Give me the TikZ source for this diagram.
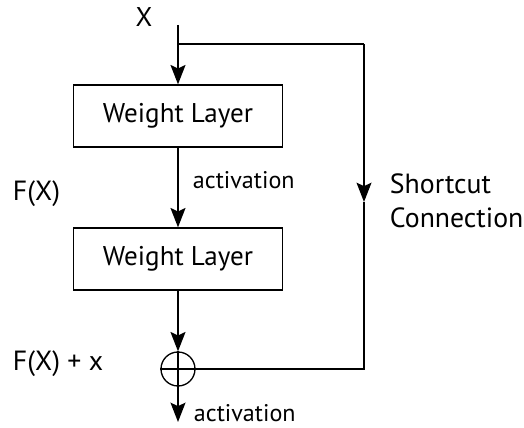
\documentclass[tikz,border=0pt]{standalone}
\usepackage{fontspec}
\setmainfont{PT Sans}
\usetikzlibrary{arrows.meta,positioning}

\begin{document}
\begin{tikzpicture}[->,>={Stealth[length=11pt,width=8.5pt,inset=2pt]},line width=1.1pt,
    layer/.style={rectangle,draw,line width=0.75pt,minimum width=4.18cm,minimum height=1.24cm,font=\fontsize{15.4}{18}\selectfont},
    lbl/.style={anchor=west,inner sep=0pt,font=\fontsize{15.8}{19.4}\selectfont},
    act/.style={anchor=west,inner sep=0pt,font=\fontsize{13.7}{16}\selectfont}]
  \useasboundingbox (0,0) rectangle (10.48,8.54);

  % blocks
  \node[layer] (W1) at (3.56,6.22) {Weight Layer};
  \node[layer] (W2) at (3.56,3.36) {Weight Layer};
  \node[circle,draw,line width=0.75pt,minimum size=0.68cm,inner sep=0pt] (S) at (3.56,1.16) {};
  \draw[-,line width=0.75pt] (S.north) -- (S.south) (S.west) -- (S.east);

  % points on the paths
  \coordinate (in) at (3.56,8.04);
  \coordinate (br) at (3.56,7.66);
  \coordinate (c1) at (7.28,7.66);
  \coordinate (mid) at (7.28,4.50);
  \coordinate (c2) at (7.28,1.16);
  \coordinate (out) at (3.56,0.10);

  \path
    (in) edge (W1)
    (W1) edge (W2)
    (W2) edge (S)
    (S) edge (out);

  % shortcut
  \draw[-,line width=0.85pt] (br) -- (c1);
  \draw[line width=0.85pt] (c1) -- (mid);
  \draw[-,line width=0.85pt] (mid) -- (c2) -- (S);

  % labels
  \node[font=\fontsize{15.4}{18}\selectfont] (X) at (2.88,8.20) {X};
  \node[act] (A1) at (3.84,4.94) {activation};
  \node[lbl] (F) at (0.24,4.66) {F(X)};
  \node[lbl,align=left] (SC) at (7.78,4.52) {Shortcut\\Connection};
  \node[lbl] (FX) at (0.24,1.26) {F(X) + x};
  \node[act] (A2) at (3.86,0.28) {activation};
\end{tikzpicture}
\end{document}
